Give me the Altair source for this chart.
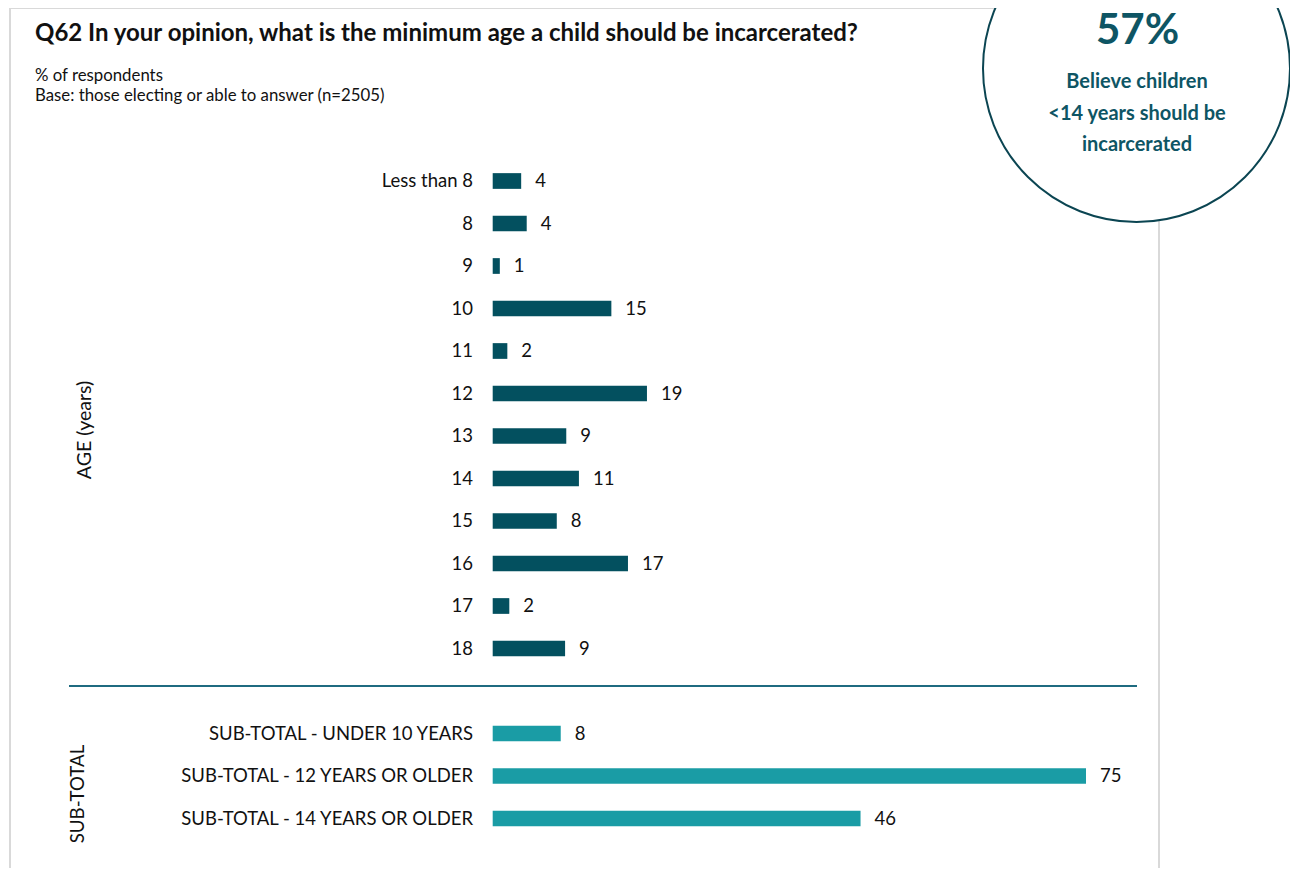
import altair as alt
import pandas as pd

# ---------------- data ----------------
age_categories = ["Less than 8", "8", "9", "10", "11", "12", "13", "14", "15", "16", "17", "18"]
age_values = [3.6, 4.3, 0.9, 15.0, 1.85, 19.5, 9.3, 10.9, 8.1, 17.1, 2.1, 9.15]
age_labels = ["4", "4", "1", "15", "2", "19", "9", "11", "8", "17", "2", "9"]

sub_categories = ["SUB-TOTAL - UNDER 10 YEARS", "SUB-TOTAL - 12 YEARS OR OLDER", "SUB-TOTAL - 14 YEARS OR OLDER"]
sub_values = [8.6, 75.0, 46.5]
sub_labels = ["8", "75", "46"]

spacer = " "

title_text = "Q62 In your opinion, what is the minimum age a child should be incarcerated?"
subtitle_lines = ["% of respondents", "Base: those electing or able to answer (n=2505)"]
callout_big = "57%"
callout_lines = ["Believe children", "<14 years should be", "incarcerated"]
group_titles = ["AGE (years)", "SUB-TOTAL"]

# ---------------- styles ----------------
FONT = "Lato"
DARK = "#03505f"
TEAL = "#1a9ca5"
CIRCLE_TEXT = "#0e5564"
TXT = "#111111"
LABEL_SIZE = 18.5
W, H = 1282, 860

rows = pd.DataFrame({
    "category": age_categories + sub_categories,
    "value": age_values + sub_values,
    "label": age_labels + sub_labels,
    "group": ["age"] * len(age_categories) + ["sub"] * len(sub_categories),
})
domain = age_categories + [spacer] + sub_categories

y_enc = alt.Y("category:N",
              scale=alt.Scale(domain=domain, range=[151.75, 831.75],
                              paddingInner=0.63, paddingOuter=0.315),
              axis=None)
x_enc = alt.X("value:Q",
              scale=alt.Scale(domain=[0, 75], range=[484.7, 1078], nice=False, zero=True),
              axis=None)

base = alt.Chart(rows)

bars = base.mark_bar().encode(
    x=x_enc, y=y_enc,
    color=alt.Color("group:N", scale=alt.Scale(domain=["age", "sub"], range=[DARK, TEAL]), legend=None),
)
values = base.mark_text(align="left", baseline="middle", dx=14, fontSize=LABEL_SIZE, font=FONT, color=TXT).encode(
    x=x_enc, y=y_enc, text="label:N"
)
cats = base.mark_text(align="right", baseline="middle", fontSize=LABEL_SIZE, font=FONT, color=TXT).encode(
    x=alt.value(465), y=y_enc, text="category:N"
)

one = pd.DataFrame({"k": [0]})

frame = alt.Chart(one).mark_rect(fill="transparent", stroke="#d9d9d9", strokeWidth=2).encode(
    x=alt.value(2), x2=alt.value(1151), y=alt.value(0), y2=alt.value(900)
)
circle = alt.Chart(one).mark_point(shape="circle", filled=True, fill="white", opacity=1,
                                   stroke="#0b4552", strokeWidth=2, size=307 * 307).encode(
    x=alt.value(1128.5), y=alt.value(60.5)
)
divider = alt.Chart(one).mark_rule(color="#1f6b80", strokeWidth=2).encode(
    x=alt.value(61), x2=alt.value(1129), y=alt.value(678)
)

title = alt.Chart(one).mark_text(align="left", baseline="alphabetic", fontSize=24, fontWeight="bold",
                                 font=FONT, color=TXT).encode(
    x=alt.value(27), y=alt.value(33), text=alt.value(title_text)
)
sub1 = alt.Chart(one).mark_text(align="left", baseline="alphabetic", fontSize=16.8, font=FONT, color=TXT).encode(
    x=alt.value(27), y=alt.value(72.7), text=alt.value(subtitle_lines[0])
)
sub2 = alt.Chart(one).mark_text(align="left", baseline="alphabetic", fontSize=16.8, font=FONT, color=TXT).encode(
    x=alt.value(27), y=alt.value(92.7), text=alt.value(subtitle_lines[1])
)

big = alt.Chart(one).mark_text(align="center", baseline="alphabetic", fontSize=42, fontWeight="bold",
                               font=FONT, color=CIRCLE_TEXT).encode(
    x=alt.value(1129.5), y=alt.value(36), text=alt.value(callout_big)
)
callout_layers = []
for line, yb in zip(callout_lines, [80.3, 111.5, 142.7]):
    callout_layers.append(
        alt.Chart(one).mark_text(align="center", baseline="alphabetic", fontSize=20, fontWeight="bold",
                                 font=FONT, color=CIRCLE_TEXT).encode(
            x=alt.value(1129), y=alt.value(yb), text=alt.value(line)
        )
    )

age_title = alt.Chart(one).mark_text(angle=270, align="center", baseline="middle", fontSize=19.5,
                                     font=FONT, color=TXT).encode(
    x=alt.value(77), y=alt.value(422), text=alt.value(group_titles[0])
)
sub_title = alt.Chart(one).mark_text(angle=270, align="center", baseline="middle", fontSize=18.7,
                                     font=FONT, color=TXT).encode(
    x=alt.value(70), y=alt.value(786), text=alt.value(group_titles[1])
)

chart = alt.layer(
    frame, circle, divider, bars, values, cats, title, sub1, sub2, big, *callout_layers, age_title, sub_title
).properties(
    width=W, height=H, padding=0, autosize=alt.AutoSizeParams(type="none"), background="white"
).configure_view(strokeWidth=0)

chart.save("out.html", embed_options={"renderer": "svg", "actions": False})
